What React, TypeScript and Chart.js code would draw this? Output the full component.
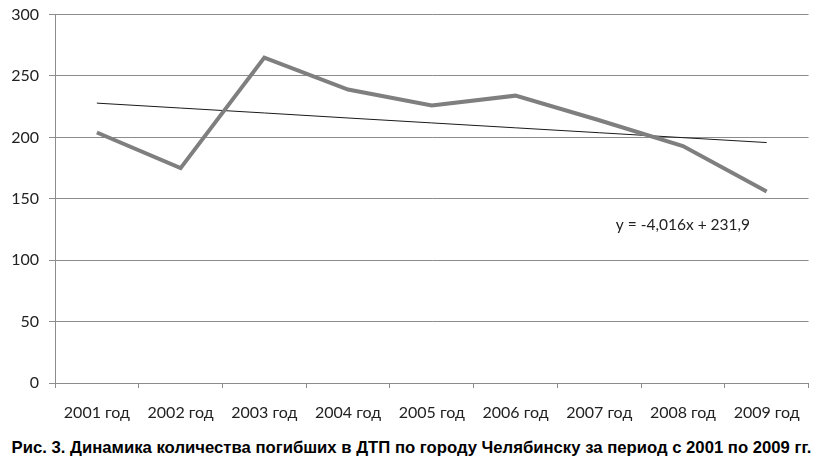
import React, { useEffect, useRef } from "react";
import { Chart, registerables } from "chart.js";

Chart.register(...registerables);

const categories = [
  "2001 год", "2002 год", "2003 год", "2004 год", "2005 год",
  "2006 год", "2007 год", "2008 год", "2009 год",
];
const deaths = [204, 175, 265, 239, 226, 234, 214, 193, 156];
const trendValues = [227.9, 223.9, 219.9, 215.8, 211.8, 207.8, 203.8, 199.8, 195.8];
const yTicks = [0, 50, 100, 150, 200, 250, 300];
const equationText = "y = -4,016x + 231,9";
const equationAt = { category: 7, value: 129 };
const caption =
  "Рис. 3. Динамика количества погибших в ДТП по городу Челябинску за период с 2001 по 2009 гг.";

const equationPlugin = {
  id: "equationLabel",
  afterDatasetsDraw(chart: any) {
    const { ctx, scales } = chart;
    const x = scales.x.getPixelForValue(equationAt.category);
    const y = scales.y.getPixelForValue(equationAt.value);
    ctx.save();
    ctx.font = "15.5px Lato, 'Open Sans', sans-serif";
    ctx.fillStyle = "#222";
    ctx.textAlign = "center";
    ctx.textBaseline = "middle";
    ctx.fillText(equationText, x, y);
    ctx.restore();
  },
};

export default function App() {
  const ref = useRef<HTMLCanvasElement>(null);
  useEffect(() => {
    if (!ref.current) return;
    const chart = new Chart(ref.current, {
      type: "line",
      data: {
        labels: categories,
        datasets: [
          {
            data: deaths,
            borderColor: "#7f7f7f",
            borderWidth: 4,
            pointRadius: 0,
            tension: 0,
          },
          {
            data: trendValues,
            borderColor: "#1a1a1a",
            borderWidth: 1,
            pointRadius: 0,
            tension: 0,
          },
        ],
      },
      options: {
        animation: false,
        responsive: true,
        maintainAspectRatio: false,
        layout: { padding: { top: 0, right: 5, left: 0, bottom: 0 } },
        plugins: {
          legend: { display: false },
          tooltip: { enabled: false },
          title: { display: false },
        },
        scales: {
          x: {
            offset: true,
            grid: {
              offset: true,
              drawOnChartArea: false,
              drawTicks: true,
              tickLength: 5,
              color: "#8c8c8c",
            },
            border: { display: true, color: "#8c8c8c", width: 1 },
            ticks: {
              color: "#222",
              font: { family: "Lato, 'Open Sans', sans-serif", size: 16 },
              padding: 15,
              maxRotation: 0,
              autoSkip: false,
            },
            afterFit(scale: any) {
              scale.height = 48;
            },
          },
          y: {
            min: 0,
            max: 300,
            afterBuildTicks(scale: any) {
              scale.ticks = yTicks.map((v) => ({ value: v }));
            },
            grid: {
              color: "#8c8c8c",
              lineWidth: 1,
              tickLength: 6,
            },
            border: { display: true, color: "#8c8c8c", width: 1 },
            ticks: {
              color: "#222",
              font: { family: "Lato, 'Open Sans', sans-serif", size: 16 },
              padding: 10,
            },
            afterFit(scale: any) {
              scale.width = 47;
            },
          },
        },
      },
      plugins: [equationPlugin],
    });
    return () => chart.destroy();
  }, []);

  return (
    <div style={{ width: 807 }}>
      <div style={{ position: "relative", width: 807, height: 436, marginTop: -13 }}>
        <canvas ref={ref} />
      </div>
      <div
        style={{
          fontFamily: "'Liberation Sans', Arial, sans-serif",
          fontWeight: "bold",
          fontSize: 16.7,
          color: "#000",
          textAlign: "center",
          marginTop: 7,
          whiteSpace: "nowrap",
        }}
      >
        {caption}
      </div>
    </div>
  );
}
